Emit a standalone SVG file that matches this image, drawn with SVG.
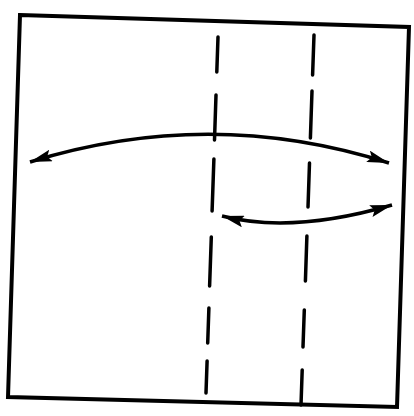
<svg xmlns="http://www.w3.org/2000/svg" width="414" height="416" viewBox="0 0 414 416">
  <style>
    .frame { fill: none; stroke: #000; stroke-width: 4; stroke-linejoin: miter; }
    .dash { stroke: #000; stroke-width: 3.5; stroke-linecap: round; }
    .arrow { fill: none; stroke: #000; stroke-width: 3.5; }
  </style>
  <defs>
    <marker id="head" viewBox="0 0 22 12" refX="22" refY="6" markerWidth="22" markerHeight="12" markerUnits="userSpaceOnUse" orient="auto-start-reverse">
      <path d="M0,0 L22,6 L0,12 L4,6 z" fill="#000"/>
    </marker>
  </defs>
  <rect width="414" height="416" fill="#fff"/>
  <g id="frame">
    <polygon class="frame" points="20,15 409,27 397,407 8,397"/>
  </g>
  <g id="fold-left">
    <line class="dash" x1="218.0" y1="37" x2="216.8" y2="72"/>
    <line class="dash" x1="216.0" y1="95" x2="214.5" y2="140"/>
    <line class="dash" x1="213.9" y1="159" x2="212.1" y2="211"/>
    <line class="dash" x1="211.3" y1="237" x2="209.6" y2="286"/>
    <line class="dash" x1="208.9" y1="308" x2="207.7" y2="343"/>
    <line class="dash" x1="207.1" y1="361" x2="206.0" y2="393"/>
  </g>
  <g id="fold-right">
    <line class="dash" x1="314.0" y1="35" x2="312.6" y2="75"/>
    <line class="dash" x1="312.0" y1="91" x2="310.4" y2="138"/>
    <line class="dash" x1="309.5" y1="163" x2="308.0" y2="207"/>
    <line class="dash" x1="306.9" y1="236" x2="305.4" y2="281"/>
    <line class="dash" x1="304.3" y1="310" x2="303.0" y2="347"/>
    <line class="dash" x1="302.2" y1="370" x2="301.0" y2="405"/>
  </g>
  <g id="connectors">
    <path class="arrow" d="M30,162 Q210,106 389,163" marker-start="url(#head)" marker-end="url(#head)"/>
    <path class="arrow" d="M222,216 Q292,234 392,205" marker-start="url(#head)" marker-end="url(#head)"/>
  </g>
</svg>
